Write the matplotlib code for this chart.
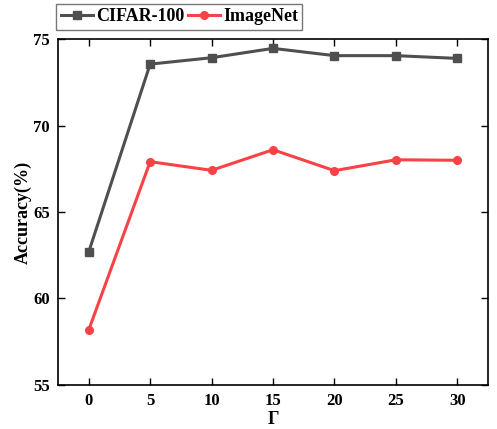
import numpy as np
import matplotlib
matplotlib.use('Agg')
import matplotlib.pyplot as plt

plt.rcParams['font.family'] = 'Liberation Serif'
plt.rcParams['font.weight'] = 'bold'

gamma = [0, 5, 10, 15, 20, 25, 30]
cifar100 = [62.69, 73.55, 73.92, 74.46, 74.04, 74.04, 73.88]
imagenet = [58.18, 67.91, 67.41, 68.60, 67.39, 68.02, 67.99]

fig = plt.figure(figsize=(4.97, 4.29), dpi=100)
ax = fig.add_axes([0.1167, 0.1026, 0.8653, 0.8064])

ax.plot(gamma, cifar100, color='#4f4f4f', lw=2.2, marker='s', ms=5.5, label='CIFAR-100')
ax.plot(gamma, imagenet, color='#f84245', lw=2.2, marker='o', ms=5.5, label='ImageNet')

ax.set_xlim(-2.5, 32.5)
ax.set_ylim(55, 75)
ax.set_xticks(gamma)
ax.set_yticks([55, 60, 65, 70, 75])
ax.tick_params(direction='in', top=True, right=True, labelsize=12, length=5, width=1, pad=6)
for lbl in ax.get_xticklabels() + ax.get_yticklabels():
    lbl.set_fontweight('bold')
for s in ax.spines.values():
    s.set_linewidth(1.2)

ax.set_xlabel('Γ', fontsize=13, fontweight='bold', labelpad=1)
ax.set_ylabel('Accuracy(%)', fontsize=13, fontweight='bold', labelpad=1)

leg = fig.legend(loc='lower left', bbox_to_anchor=(0.113, 0.931), ncol=2,
                 prop={'weight': 'bold', 'size': 13}, frameon=True, fancybox=False,
                 edgecolor='#555555', borderpad=0.25, handlelength=1.8,
                 handletextpad=0.15, columnspacing=0.2, borderaxespad=0)
leg.get_frame().set_linewidth(1.0)

fig.savefig('out.png', dpi=100)
